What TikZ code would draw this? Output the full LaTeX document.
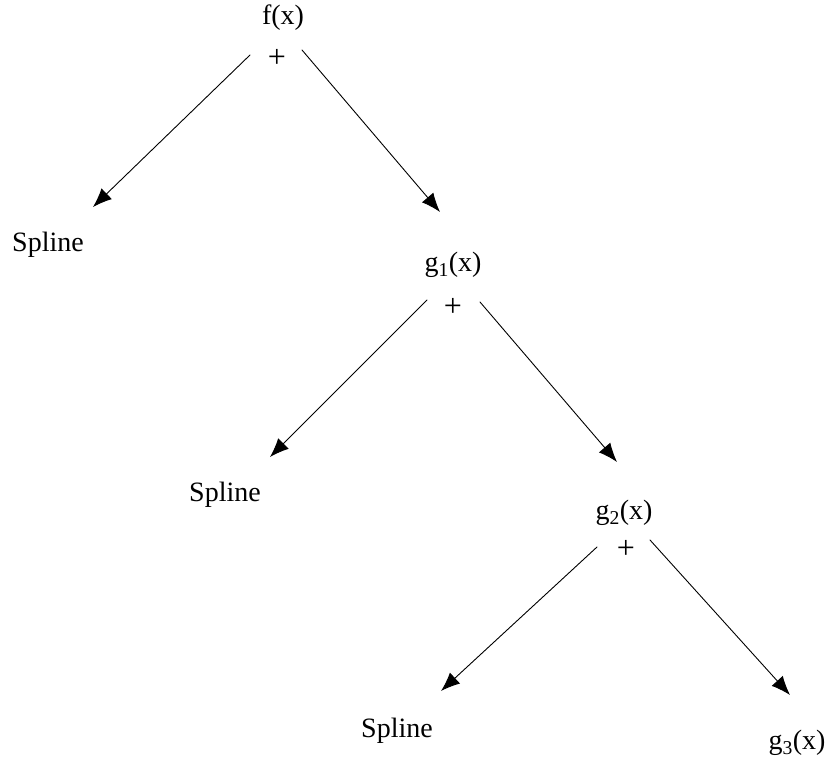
\documentclass[tikz,border=0pt]{standalone}
\usepackage{fontspec}
\setmainfont{Liberation Serif}
\usetikzlibrary{arrows.meta}

\begin{document}
\begin{tikzpicture}[x=1pt,y=-1pt,>={Latex[length=19pt,width=15pt]},line cap=round]
\tikzset{lbl/.style={inner sep=0pt,font=\fontsize{28}{32}\selectfont},
  plus/.style={inner sep=0pt,font=\fontsize{32}{36}\selectfont},
  arr/.style={->,line width=0.9pt}}
\useasboundingbox[fill=white] (0,0) rectangle (835,760);
% labels
\node[lbl] (f) at (283,18) {f(x)};
\node[plus] (fplus) at (277,58) {+};
\node[lbl] (spl1) at (48,245) {Spline};
\node[lbl] (g1) at (453,265) {g\textsubscript{1}(x)};
\node[plus] (g1plus) at (453,307) {+};
\node[lbl] (spl2) at (225,495) {Spline};
\node[lbl] (g2) at (624,513) {g\textsubscript{2}(x)};
\node[plus] (g2plus) at (626,549) {+};
\node[lbl] (spl3) at (397,731) {Spline};
\node[lbl] (g3) at (797,743) {g\textsubscript{3}(x)};
% line ends
\coordinate (fL) at (250,55);
\coordinate (fR) at (302,50);
\coordinate (spl1tip) at (93,207);
\coordinate (g1tip) at (440,212);
\coordinate (g1L) at (427,300);
\coordinate (g1R) at (480,302);
\coordinate (spl2tip) at (270,457);
\coordinate (g2tip) at (617,462);
\coordinate (g2L) at (597,547);
\coordinate (g2R) at (650,540);
\coordinate (spl3tip) at (441,691);
\coordinate (g3tip) at (790,695);
% arrows
\draw[arr] (fL) -- (spl1tip);
\draw[arr] (fR) -- (g1tip);
\draw[arr] (g1L) -- (spl2tip);
\draw[arr] (g1R) -- (g2tip);
\draw[arr] (g2L) -- (spl3tip);
\draw[arr] (g2R) -- (g3tip);
\end{tikzpicture}
\end{document}
